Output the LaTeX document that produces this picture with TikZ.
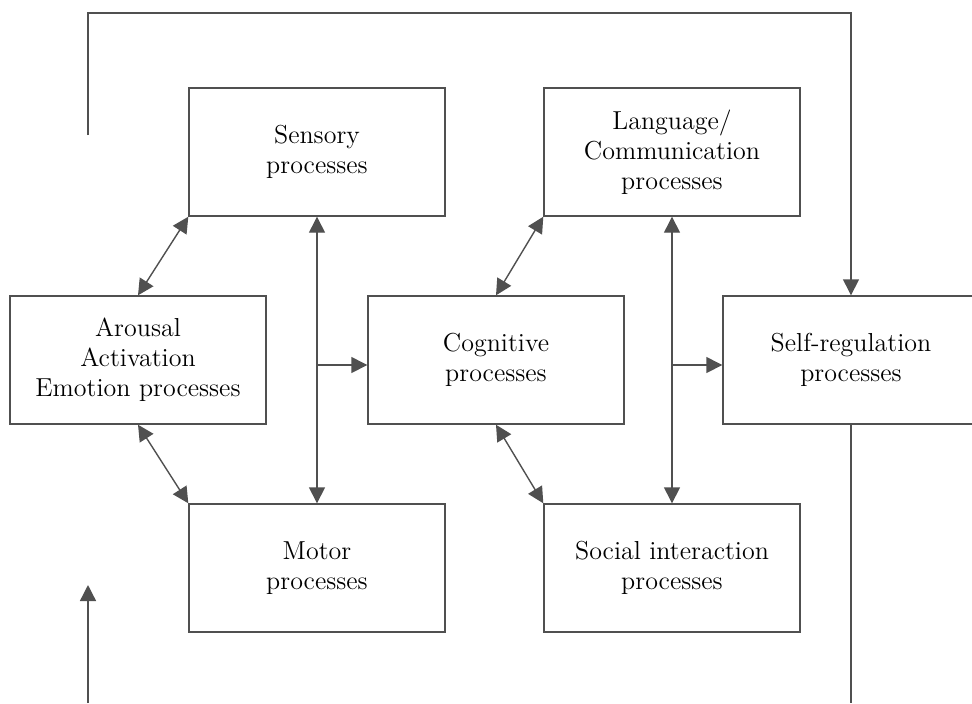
\documentclass[tikz,border=0pt]{standalone}
\usetikzlibrary{arrows.meta}
\definecolor{linegrey}{RGB}{80,80,80}
\tikzset{
  procbox/.style={draw=linegrey, line width=0.7pt, align=center, minimum width=128pt, minimum height=64pt, inner sep=0pt, font=\fontsize{13}{15}\selectfont},
  link/.style={draw=linegrey, line width=0.7pt}
}
\begin{document}
\begin{tikzpicture}[x=0.5pt, y=-0.5pt, >={Triangle[length=8pt,width=8pt]}]
\useasboundingbox (0,0) rectangle (972,703);
\clip (0,0) rectangle (972,703);
\node[procbox] (sensory) at (317,152) {Sensory\\processes};
\node[procbox] (language) at (672,152) {Language/\\Communication\\processes};
\node[procbox] (arousal) at (138,360) {Arousal\\Activation\\Emotion processes};
\node[procbox] (cognitive) at (496,360) {Cognitive\\processes};
\node[procbox] (selfreg) at (851,360) {Self-regulation\\processes};
\node[procbox] (motor) at (317,568) {Motor\\processes};
\node[procbox] (social) at (672,568) {Social interaction\\processes};

\coordinate (loopin) at (88,135);
\coordinate (loopturn) at (851,13);
\coordinate (outend) at (851,703);
\coordinate (instart) at (88,703);
\coordinate (intip) at (88,585);

\draw[link, <->] (arousal.north) -- (sensory.south west);
\draw[link, <->] (arousal.south) -- (motor.north west);
\draw[link, <->] (cognitive.north) -- (language.south west);
\draw[link, <->] (cognitive.south) -- (social.north west);
\draw[link, <->] (sensory.south) -- (motor.north);
\draw[link, <->] (language.south) -- (social.north);
\draw[link, ->] ([yshift=-2.5pt]sensory.south |- cognitive.west) -- ([yshift=-2.5pt]cognitive.west);
\draw[link, ->] ([yshift=-2.5pt]language.south |- selfreg.west) -- ([yshift=-2.5pt]selfreg.west);
\draw[link, ->] (loopin) |- (loopturn) -- (selfreg.north);
\draw[link] (selfreg.south) -- (outend);
\draw[link, ->] (instart) -- (intip);
\end{tikzpicture}
\end{document}
